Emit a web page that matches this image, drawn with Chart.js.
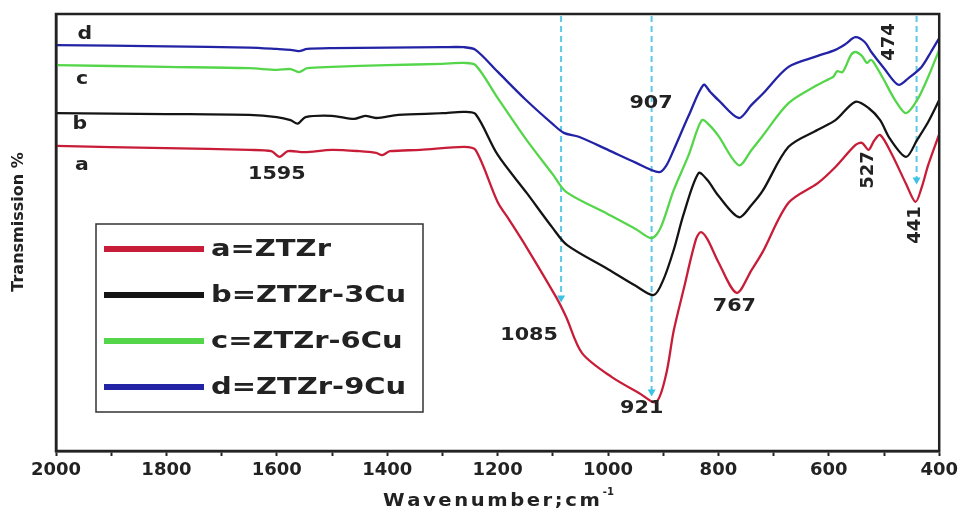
<!DOCTYPE html>
<html>
<head>
<meta charset="utf-8">
<title>FTIR spectra</title>
<script src="https://cdn.jsdelivr.net/npm/chart.js@4.4.1/dist/chart.umd.min.js"></script>
<style>
  html, body { margin: 0; padding: 0; background: #fff; }
  canvas { display: block; }
</style>
</head>
<body>
<canvas id="ftir" width="962" height="508"></canvas>
<script>
// ── DATA ──────────────────────────────────────────────────────────
const seriesNames = ['a=ZTZr', 'b=ZTZr-3Cu', 'c=ZTZr-6Cu', 'd=ZTZr-9Cu'];
const seriesTags  = ['a', 'b', 'c', 'd'];
const seriesColors = ['#c81d38', '#141414', '#55d64a', '#2323a6'];

// a = ZTZr
const wnA = [2000, 1800, 1650, 1610, 1595, 1580, 1550, 1500, 1450, 1420, 1409, 1395, 1340, 1261, 1240, 1200, 1179, 1147, 1094, 1076, 1047, 993, 944, 913, 895, 881, 863, 841, 832, 820, 800, 767, 740, 720, 673, 620, 588, 552, 540, 528, 518, 507, 487, 460, 443, 432, 420, 400];
const tA  = [69.8, 69.3, 68.9, 68.6, 67.3, 68.6, 68.4, 68.9, 68.6, 68.2, 67.7, 68.6, 68.9, 69.6, 68.9, 57.0, 52.9, 46.5, 35.2, 30.7, 22.4, 16.9, 13.3, 11.2, 17.4, 27.5, 37.0, 48.3, 50.1, 48.5, 43.2, 36.2, 41.4, 45.5, 56.8, 61.3, 65.0, 70.0, 70.5, 68.9, 71.0, 72.3, 68.2, 61.1, 57.0, 60.2, 65.4, 72.5];

// b = ZTZr-3Cu
const wnB = [2000, 1800, 1650, 1600, 1575, 1562, 1548, 1500, 1460, 1440, 1420, 1380, 1300, 1261, 1240, 1200, 1147, 1100, 1074, 1000, 950, 917, 900, 881, 863, 836, 820, 800, 763, 740, 720, 673, 620, 588, 552, 528, 507, 490, 460, 440, 420, 400];
const tB  = [77.3, 77.1, 76.9, 76.4, 75.7, 74.9, 76.4, 76.7, 76.0, 76.7, 76.2, 76.9, 77.3, 77.6, 77.1, 67.8, 59.0, 51.0, 47.1, 41.6, 37.8, 35.7, 39.1, 46.0, 54.2, 63.6, 62.0, 58.4, 53.5, 56.3, 59.5, 69.6, 73.5, 75.7, 79.9, 78.5, 75.7, 71.6, 67.3, 71.2, 75.3, 80.3];

// c = ZTZr-6Cu
const wnC = [2000, 1800, 1650, 1600, 1575, 1560, 1545, 1500, 1400, 1300, 1261, 1240, 1200, 1150, 1100, 1076, 1000, 950, 921, 905, 881, 854, 830, 815, 800, 763, 740, 720, 673, 620, 600, 592, 585, 575, 560, 552, 540, 531, 524, 519, 500, 480, 460, 440, 420, 400];
const tC  = [88.3, 87.9, 87.6, 87.2, 87.4, 86.7, 87.6, 87.9, 88.3, 88.6, 88.8, 88.3, 80.8, 71.6, 63.3, 59.3, 54.2, 50.8, 48.7, 51.0, 59.7, 67.7, 75.7, 74.4, 72.1, 65.4, 68.9, 72.1, 79.6, 83.8, 85.1, 85.6, 86.9, 86.7, 90.6, 91.3, 90.4, 88.8, 89.5, 89.0, 84.9, 80.3, 77.3, 80.3, 85.6, 91.8];

// d = ZTZr-9Cu
const wnD = [2000, 1800, 1650, 1600, 1575, 1560, 1545, 1500, 1400, 1300, 1261, 1240, 1200, 1150, 1100, 1080, 1053, 1000, 950, 908, 895, 881, 854, 827, 815, 800, 763, 740, 720, 673, 620, 588, 570, 552, 535, 523, 500, 474, 455, 432, 415, 400];
const tD  = [92.9, 92.6, 92.3, 92.0, 91.8, 91.5, 92.0, 92.2, 92.3, 92.4, 92.4, 91.8, 86.8, 80.5, 74.8, 72.8, 71.9, 68.9, 66.0, 63.8, 65.2, 68.9, 76.7, 83.8, 82.2, 80.3, 76.2, 79.2, 81.7, 87.9, 90.4, 91.8, 93.1, 94.7, 93.6, 91.3, 87.6, 83.8, 85.4, 87.9, 91.3, 94.5];

// dashed guide arrows: band position and where the arrow tip stops
const markWn  = [1085, 921, 441];
const markTip = [34.0, 12.5, 61.0];

// x axis
const xMin = 400, xMax = 2000, xStep = 100, xLabelStep = 200;

const FONT = '"DejaVu Sans", "Liberation Sans", Arial, sans-serif';
const INK = '#222';

function toPoints(xs, ys) { return xs.map((x, i) => ({ x, y: ys[i] })); }

// ── TEXT HELPERS ──────────────────────────────────────────────────
function wideText(ctx, text, x, y, size, sx, rot, align) {
  ctx.save();
  ctx.translate(x, y);
  if (rot) ctx.rotate(rot);
  ctx.scale(sx, 1);
  ctx.font = `bold ${size}px ${FONT}`;
  ctx.fillStyle = INK;
  ctx.textAlign = align || 'center';
  ctx.textBaseline = 'middle';
  ctx.fillText(text, 0, 0);
  ctx.restore();
}

// letter-spaced text, left aligned at x; returns end x
function spacedText(ctx, text, x, y, size, sx, gap) {
  ctx.save();
  ctx.font = `bold ${size}px ${FONT}`;
  ctx.fillStyle = INK;
  ctx.textBaseline = 'alphabetic';
  ctx.textAlign = 'left';
  let cx = x;
  for (const ch of text) {
    ctx.save();
    ctx.translate(cx, y);
    ctx.scale(sx, 1);
    ctx.fillText(ch, 0, 0);
    ctx.restore();
    cx += ctx.measureText(ch).width * sx + gap;
  }
  ctx.restore();
  return cx - gap;
}

// ── PLUGINS ───────────────────────────────────────────────────────
const guideArrows = {
  id: 'guideArrows',
  beforeDatasetsDraw(chart) {
    const { ctx, chartArea, scales: { x, y } } = chart;
    ctx.save();
    ctx.strokeStyle = '#5cc9e6';
    ctx.fillStyle = '#3cc3e3';
    ctx.lineWidth = 2;
    ctx.setLineDash([6, 4]);
    markWn.forEach((w, i) => {
      const px = x.getPixelForValue(w);
      const tip = y.getPixelForValue(markTip[i]);
      ctx.beginPath();
      ctx.moveTo(px, chartArea.top + 2);
      ctx.lineTo(px, tip - 6);
      ctx.stroke();
      ctx.beginPath();
      ctx.moveTo(px - 4, tip - 7);
      ctx.lineTo(px + 4, tip - 7);
      ctx.lineTo(px, tip);
      ctx.closePath();
      ctx.fill();
    });
    ctx.restore();
  },
};

const annotations = {
  id: 'annotations',
  afterDraw(chart) {
    const { ctx, chartArea, scales: { x, y } } = chart;
    const at = (w, t) => [x.getPixelForValue(w), y.getPixelForValue(t)];

    // frame around plot
    ctx.save();
    ctx.strokeStyle = INK;
    ctx.lineWidth = 2.5;
    ctx.strokeRect(chartArea.left, chartArea.top, chartArea.right - chartArea.left, chartArea.bottom - chartArea.top);
    ctx.restore();

    // curve tags at the left
    const tagPos = { d: [1948, 95.2], c: [1953, 84.9], b: [1957, 74.6], a: [1953, 65.2] };
    seriesTags.forEach(tag => {
      const [px, py] = at(...tagPos[tag]);
      wideText(ctx, tag, px, py, 17, 1.2);
    });

    // band positions
    const notes = [
      ['1595', 1600, 63.4, 0],
      ['907', 922, 79.6, 0],
      ['1085', 1143, 26.5, 0],
      ['921', 939, 9.8, 0],
      ['767', 771, 33.0, 0],
      ['527', 528, 64.3, -Math.PI / 2],
      ['474', 490, 93.6, -Math.PI / 2],
      ['441', 443, 51.7, -Math.PI / 2],
    ];
    notes.forEach(([txt, w, t, rot]) => {
      const [px, py] = at(w, t);
      wideText(ctx, txt, px, py, 18, rot ? 1 : 1.15, rot);
    });

    // legend box
    const box = { l: 96, t: 224, r: 423, b: 412 };
    ctx.save();
    ctx.fillStyle = '#fff';
    ctx.fillRect(box.l, box.t, box.r - box.l, box.b - box.t);
    ctx.strokeStyle = '#333';
    ctx.lineWidth = 1.5;
    ctx.strokeRect(box.l, box.t, box.r - box.l, box.b - box.t);
    ctx.lineWidth = 6;
    seriesNames.forEach((name, i) => {
      const ly = 249 + i * 46;
      ctx.strokeStyle = seriesColors[i];
      ctx.beginPath();
      ctx.moveTo(104, ly);
      ctx.lineTo(204, ly);
      ctx.stroke();
      wideText(ctx, name, 211, ly + 1, 23, 1.26, 0, 'left');
    });
    ctx.restore();

    // axis titles
    wideText(ctx, 'Transmission %', 19, 222, 16, 1, -Math.PI / 2);
    const end = spacedText(ctx, 'Wavenumber;cm', 383, 506, 17, 1.15, 2.6);
    ctx.save();
    ctx.font = `bold 10px ${FONT}`;
    ctx.fillStyle = INK;
    ctx.fillText('-1', end + 3, 495);
    ctx.restore();
  },
};

// ── CHART ─────────────────────────────────────────────────────────
const spectra = [[wnA, tA], [wnB, tB], [wnC, tC], [wnD, tD]];

new Chart(document.getElementById('ftir'), {
  type: 'line',
  data: {
    datasets: spectra.map(([xs, ys], i) => ({
      label: seriesNames[i],
      data: toPoints(xs, ys),
      borderColor: seriesColors[i],
      borderWidth: 2.3,
      pointRadius: 0,
      fill: false,
      tension: 0.3,
    })),
  },
  options: {
    responsive: false,
    animation: false,
    layout: { padding: { top: 14, right: 21, left: 0, bottom: 0 } },
    plugins: {
      legend: { display: false },
      tooltip: { enabled: false },
    },
    scales: {
      x: {
        type: 'linear',
        reverse: true,
        min: xMin,
        max: xMax,
        afterFit: s => { s.height = 57; },
        ticks: {
          stepSize: xStep,
          autoSkip: false,
          maxRotation: 0,
          padding: 4,
          color: INK,
          font: { family: FONT, weight: 'bold', size: 18 },
          callback: v => (v % xLabelStep === 0 ? v : ''),
        },
        grid: { display: true, drawOnChartArea: false, drawTicks: true, tickLength: 5, tickWidth: 2, tickColor: INK },
        border: { display: true, color: INK, width: 2.5 },
      },
      y: {
        min: 0,
        max: 100,
        afterFit: s => { s.width = 56; },
        ticks: { display: false },
        grid: { display: false },
        border: { display: true, color: INK, width: 2.5 },
      },
    },
  },
  plugins: [guideArrows, annotations],
});
</script>
</body>
</html>
